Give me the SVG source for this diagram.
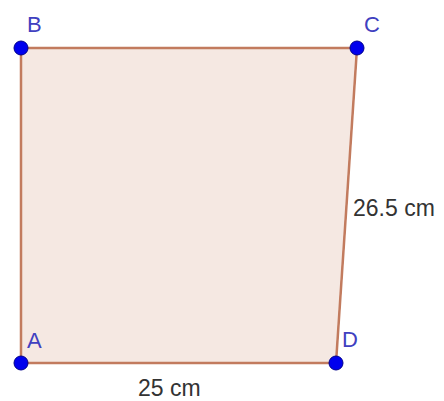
<svg xmlns="http://www.w3.org/2000/svg" width="444" height="401" viewBox="0 0 444 401">
<style>
.pt{fill:#0000ee;stroke:#00008b;stroke-width:1}
.lbl{font-family:"Liberation Sans",Arial,sans-serif;font-size:22px;fill:#4040c0}
.dim{font-family:"Liberation Sans",Arial,sans-serif;font-size:23px;fill:#333333}
</style>
<rect width="444" height="401" fill="#ffffff"/>
<g id="polygon">
<polygon points="21,48 357,48 336,363 21,363" fill="#f5e8e2" stroke="none"/>
</g>
<g id="edges" fill="none" stroke="#c27b5e" stroke-width="2.5">
<line x1="21" y1="48" x2="357" y2="48"/>
<line x1="357" y1="48" x2="336" y2="363"/>
<line x1="336" y1="363" x2="21" y2="363"/>
<line x1="21" y1="363" x2="21" y2="48"/>
</g>
<g id="B"><circle class="pt" cx="21" cy="48" r="7"/><text class="lbl" x="27" y="32">B</text></g>
<g id="C"><circle class="pt" cx="357" cy="48" r="7"/><text class="lbl" x="364" y="32">C</text></g>
<g id="A"><circle class="pt" cx="21" cy="363" r="7"/><text class="lbl" x="27" y="348">A</text></g>
<g id="D"><circle class="pt" cx="336" cy="363" r="7"/><text class="lbl" x="342" y="347">D</text></g>
<text class="dim" x="138" y="396">25 cm</text>
<text class="dim" x="353" y="216">26.5 cm</text>
</svg>
